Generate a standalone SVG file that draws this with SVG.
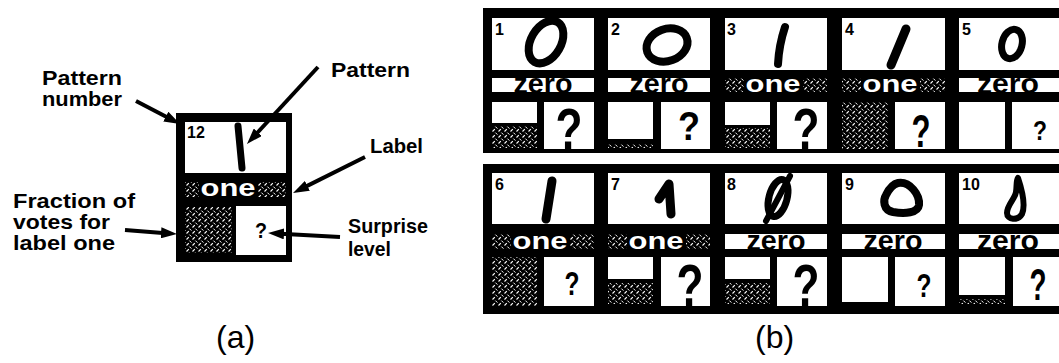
<svg xmlns="http://www.w3.org/2000/svg" width="1059" height="363" viewBox="0 0 1059 363">
<defs>
  <pattern id="hatch" patternUnits="userSpaceOnUse" width="6" height="6">
    <rect width="6" height="6" fill="#000"/>
    <path d="M0.5,5.5 L2.8,3.2" stroke="#fff" stroke-width="1.1"/>
    <path d="M3.4,0.6 L5.4,2.6" stroke="#fff" stroke-width="1"/>
  </pattern>
  <marker id="ah" markerUnits="userSpaceOnUse" viewBox="0 0 16 11" refX="8" refY="5.5" markerWidth="16" markerHeight="11" orient="auto">
    <path d="M0,0 L16,5.5 L0,11 Z" fill="#000"/>
  </marker>
</defs>
<style>
  .lbl{font-family:"Liberation Sans",Arial,sans-serif;font-weight:bold;font-size:21px;fill:#000}
  .cap{font-family:"Liberation Sans",Arial,sans-serif;font-size:32px;fill:#000}
  .num{font-family:"Liberation Sans",Arial,sans-serif;font-weight:bold;font-size:16px;fill:#000}
  .zero{font-family:"Liberation Sans",Arial,sans-serif;font-weight:bold;font-size:28px;fill:#000}
  .one{font-family:"Liberation Sans",Arial,sans-serif;font-weight:bold;font-size:23px;fill:#fff}
  .q{font-family:"Liberation Sans",Arial,sans-serif;font-weight:bold;fill:#000}
  .w{fill:#fff}
  .h{fill:url(#hatch)}
  .dig{fill:none;stroke:#000;stroke-linecap:round;stroke-linejoin:round}
  .arr{stroke:#000;stroke-width:4;fill:none}
</style>
<rect width="1059" height="363" fill="#fff"/>

<!-- Panel (a) -->
<g id="node-a">
  <rect x="176" y="113" width="116" height="149" fill="#000"/>
  <rect class="w" x="185" y="122" width="101" height="51"/>
  <text class="num" x="187" y="138" font-size="17">12</text>
  <path class="dig" d="M238,126 L242,168" stroke-width="7"/>
  <rect class="h" x="185" y="182" width="101" height="15"/>
  <rect x="199" y="182" width="59" height="15" fill="#000"/>
  <text class="one" x="228" y="196" text-anchor="middle" textLength="55" lengthAdjust="spacingAndGlyphs">one</text>
  <rect class="h" x="185" y="207" width="47" height="46"/>
  <rect class="w" x="236" y="206" width="50" height="49"/>
  <text class="q" x="261" y="238" font-size="22" text-anchor="middle" textLength="12" lengthAdjust="spacingAndGlyphs">?</text>
</g>
<g id="labels-a">
  <text class="lbl" x="42" y="85" textLength="80" lengthAdjust="spacingAndGlyphs">Pattern</text>
  <text class="lbl" x="42" y="106" textLength="80" lengthAdjust="spacingAndGlyphs">number</text>
  <text class="lbl" x="331" y="77" textLength="79" lengthAdjust="spacingAndGlyphs">Pattern</text>
  <text class="lbl" x="370" y="153" textLength="53" lengthAdjust="spacingAndGlyphs">Label</text>
  <text class="lbl" x="13" y="208" textLength="122" lengthAdjust="spacingAndGlyphs">Fraction of</text>
  <text class="lbl" x="13" y="229" textLength="97" lengthAdjust="spacingAndGlyphs">votes for</text>
  <text class="lbl" x="13" y="250" textLength="102" lengthAdjust="spacingAndGlyphs">label one</text>
  <text class="lbl" x="348" y="233" textLength="80" lengthAdjust="spacingAndGlyphs">Surprise</text>
  <text class="lbl" x="348" y="256" textLength="43" lengthAdjust="spacingAndGlyphs">level</text>
  <text class="cap" x="216" y="348">(a)</text>
  <text class="cap" x="755" y="348">(b)</text>
</g>
<g id="connectors">
  <line class="arr" x1="136" y1="101" x2="172.9" y2="120.3" marker-end="url(#ah)"/>
  <line class="arr" x1="318" y1="67" x2="252.4" y2="138.1" marker-end="url(#ah)"/>
  <line class="arr" x1="365" y1="157" x2="300.2" y2="189.4" marker-end="url(#ah)"/>
  <line class="arr" x1="340" y1="237" x2="276" y2="233.4" marker-end="url(#ah)"/>
  <line class="arr" x1="125" y1="230" x2="169" y2="233.4" marker-end="url(#ah)"/>
</g>

<!-- Panel (b) frames -->
<rect x="483" y="8" width="580" height="145" fill="#000"/>
<rect x="483" y="164" width="580" height="150" fill="#000"/>

<!-- Row 1 -->
<g id="cell-1">
  <rect class="w" x="492" y="18" width="102" height="52"/>
  <text class="num" x="495" y="35">1</text>
  <ellipse class="dig" cx="546" cy="42" rx="15" ry="23" transform="rotate(30 546 42)" stroke-width="8"/>
  <rect class="w" x="492" y="78" width="102" height="14"/>
  <text class="zero" x="543" y="92.5" text-anchor="middle" textLength="59" lengthAdjust="spacingAndGlyphs">zero</text>
  <rect class="w" x="492" y="102" width="45" height="21"/>
  <rect class="h" x="492" y="126" width="45" height="22"/>
  <rect class="w" x="544" y="102" width="50" height="47"/>
  <text class="q" x="569" y="149" font-size="58" text-anchor="middle" textLength="27" lengthAdjust="spacingAndGlyphs">?</text>
</g>
<g id="cell-2">
  <rect class="w" x="608" y="18" width="102" height="52"/>
  <text class="num" x="611" y="35">2</text>
  <ellipse class="dig" cx="667" cy="45" rx="21" ry="16" transform="rotate(-20 667 45)" stroke-width="8"/>
  <rect class="w" x="608" y="78" width="102" height="14"/>
  <text class="zero" x="659" y="92.5" text-anchor="middle" textLength="59" lengthAdjust="spacingAndGlyphs">zero</text>
  <rect class="w" x="608" y="102" width="45" height="37"/>
  <rect class="h" x="608" y="144" width="45" height="4"/>
  <rect class="w" x="661" y="102" width="49" height="47"/>
  <text class="q" x="689" y="140" font-size="41" text-anchor="middle" textLength="22" lengthAdjust="spacingAndGlyphs">?</text>
</g>
<g id="cell-3">
  <rect class="w" x="725" y="18" width="102" height="52"/>
  <text class="num" x="727" y="35">3</text>
  <path class="dig" d="M785,27 Q779,45 778,64" stroke-width="8"/>
  <rect class="h" x="725" y="78" width="102" height="14"/>
  <rect x="744" y="78" width="59" height="14" fill="#000"/>
  <text class="one" x="773" y="92" text-anchor="middle" textLength="55" lengthAdjust="spacingAndGlyphs">one</text>
  <rect class="w" x="725" y="102" width="45" height="23"/>
  <rect class="h" x="725" y="128" width="45" height="20"/>
  <rect class="w" x="777" y="102" width="50" height="47"/>
  <text class="q" x="806" y="149" font-size="58" text-anchor="middle" textLength="27" lengthAdjust="spacingAndGlyphs">?</text>
</g>
<g id="cell-4">
  <rect class="w" x="842" y="18" width="103" height="52"/>
  <text class="num" x="845" y="35">4</text>
  <path class="dig" d="M906,29 L891,65" stroke-width="9"/>
  <rect class="h" x="842" y="78" width="103" height="14"/>
  <rect x="861" y="78" width="59" height="14" fill="#000"/>
  <text class="one" x="890" y="92" text-anchor="middle" textLength="55" lengthAdjust="spacingAndGlyphs">one</text>
  <rect class="h" x="842" y="102" width="46" height="47"/>
  <rect class="w" x="895" y="102" width="50" height="47"/>
  <text class="q" x="921" y="147" font-size="47" text-anchor="middle" textLength="19" lengthAdjust="spacingAndGlyphs">?</text>
</g>
<g id="cell-5">
  <rect class="w" x="959" y="18" width="102" height="52"/>
  <text class="num" x="962" y="35">5</text>
  <ellipse class="dig" cx="1012" cy="44" rx="10" ry="15" transform="rotate(15 1012 44)" stroke-width="7"/>
  <rect class="w" x="959" y="78" width="102" height="14"/>
  <text class="zero" x="1008" y="92.5" text-anchor="middle" textLength="62" lengthAdjust="spacingAndGlyphs">zero</text>
  <rect class="w" x="959" y="102" width="46" height="47"/>
  <rect class="w" x="1012" y="102" width="49" height="47"/>
  <text class="q" x="1040" y="140" font-size="28" text-anchor="middle" textLength="14" lengthAdjust="spacingAndGlyphs">?</text>
</g>

<!-- Row 2 -->
<g id="cell-6">
  <rect class="w" x="492" y="173" width="102" height="51"/>
  <text class="num" x="495" y="190">6</text>
  <path class="dig" d="M552,181 L546,219" stroke-width="9"/>
  <rect class="h" x="492" y="234" width="102" height="15"/>
  <rect x="511" y="234" width="59" height="15" fill="#000"/>
  <text class="one" x="540" y="248.5" text-anchor="middle" textLength="55" lengthAdjust="spacingAndGlyphs">one</text>
  <rect class="h" x="492" y="257" width="45" height="49"/>
  <rect class="w" x="544" y="257" width="50" height="49"/>
  <text class="q" x="572" y="295" font-size="34" text-anchor="middle" textLength="15" lengthAdjust="spacingAndGlyphs">?</text>
</g>
<g id="cell-7">
  <rect class="w" x="608" y="173" width="102" height="51"/>
  <text class="num" x="611" y="190">7</text>
  <path class="dig" d="M659,199 L669,184 L671,214" stroke-width="9"/>
  <rect class="h" x="608" y="234" width="102" height="15"/>
  <rect x="627" y="234" width="59" height="15" fill="#000"/>
  <text class="one" x="656" y="248.5" text-anchor="middle" textLength="55" lengthAdjust="spacingAndGlyphs">one</text>
  <rect class="w" x="608" y="257" width="45" height="22"/>
  <rect class="h" x="608" y="283" width="45" height="21"/>
  <rect class="w" x="661" y="257" width="49" height="49"/>
  <text class="q" x="690" y="306" font-size="60" text-anchor="middle" textLength="27" lengthAdjust="spacingAndGlyphs">?</text>
</g>
<g id="cell-8">
  <rect class="w" x="725" y="173" width="102" height="51"/>
  <text class="num" x="727" y="190">8</text>
  <ellipse class="dig" cx="778" cy="198" rx="9" ry="19" transform="rotate(15 778 198)" stroke-width="7"/>
  <path class="dig" d="M790,176 L766,221" stroke-width="6"/>
  <rect class="w" x="725" y="234" width="102" height="15"/>
  <text class="zero" x="776" y="249.5" text-anchor="middle" textLength="59" lengthAdjust="spacingAndGlyphs" font-size="29">zero</text>
  <rect class="w" x="725" y="257" width="45" height="22"/>
  <rect class="h" x="725" y="283" width="45" height="21"/>
  <rect class="w" x="777" y="257" width="50" height="49"/>
  <text class="q" x="806" y="306" font-size="60" text-anchor="middle" textLength="27" lengthAdjust="spacingAndGlyphs">?</text>
</g>
<g id="cell-9">
  <rect class="w" x="842" y="173" width="103" height="51"/>
  <text class="num" x="845" y="190">9</text>
  <path class="dig" d="M898,183 C910,181 920,195 919,205 C918,213 905,214 893,212 C883,210 883,200 886,195 C889,189 893,184 898,183 Z" stroke-width="8"/>
  <rect class="w" x="842" y="234" width="103" height="15"/>
  <text class="zero" x="893" y="249.5" text-anchor="middle" textLength="59" lengthAdjust="spacingAndGlyphs" font-size="29">zero</text>
  <rect class="w" x="842" y="257" width="46" height="45"/>
  <rect class="w" x="895" y="257" width="50" height="49"/>
  <text class="q" x="924" y="297" font-size="33" text-anchor="middle" textLength="15" lengthAdjust="spacingAndGlyphs">?</text>
</g>
<g id="cell-10">
  <rect class="w" x="959" y="173" width="102" height="51"/>
  <text class="num" x="962" y="190">10</text>
  <path class="dig" d="M1018,178 C1022,190 1026,205 1022,214 C1018,221 1007,220 1007,213 C1007,205 1015,199 1016,192 C1017,186 1016,181 1018,178 Z" stroke-width="6"/>
  <rect class="w" x="959" y="234" width="102" height="15"/>
  <text class="zero" x="1008" y="249.5" text-anchor="middle" textLength="62" lengthAdjust="spacingAndGlyphs" font-size="29">zero</text>
  <rect class="w" x="959" y="257" width="46" height="38"/>
  <rect class="h" x="959" y="299" width="46" height="5"/>
  <rect class="w" x="1013" y="257" width="48" height="49"/>
  <text class="q" x="1038" y="300" font-size="44" text-anchor="middle" textLength="17" lengthAdjust="spacingAndGlyphs">?</text>
</g>
</svg>
